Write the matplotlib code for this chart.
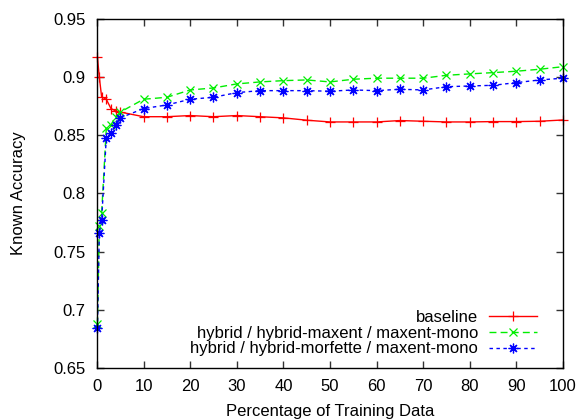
import matplotlib
matplotlib.use("Agg")
import matplotlib.pyplot as plt
import numpy as np

# Training-set size (percent) and accuracy for each system
pct = [0.1, 0.5, 1, 2, 3, 4, 5, 10, 15, 20, 25, 30, 35, 40, 45, 50,
       55, 60, 65, 70, 75, 80, 85, 90, 95, 100]

baseline = [0.917, 0.900, 0.883, 0.881, 0.873, 0.871, 0.870, 0.866, 0.866,
            0.867, 0.866, 0.867, 0.866, 0.865, 0.863, 0.8615, 0.8615, 0.8615,
            0.8627, 0.8621, 0.8615, 0.8615, 0.8618, 0.8618, 0.8621, 0.8632]

maxent = [0.688, 0.772, 0.783, 0.856, 0.859, 0.866, 0.870, 0.881, 0.8827,
          0.889, 0.8907, 0.8942, 0.8959, 0.8970, 0.8976, 0.8959, 0.8982,
          0.8991, 0.8991, 0.8991, 0.9016, 0.9028, 0.9039, 0.9051, 0.9068,
          0.9090]

morfette = [0.684, 0.766, 0.777, 0.848, 0.852, 0.859, 0.865, 0.873, 0.8761,
            0.881, 0.8827, 0.8867, 0.8884, 0.8884, 0.8884, 0.8879, 0.8890,
            0.8884, 0.8896, 0.8890, 0.8918, 0.8924, 0.8930, 0.8953, 0.8976,
            0.8991]

labels = ["baseline",
          "hybrid / hybrid-maxent / maxent-mono",
          "hybrid / hybrid-morfette / maxent-mono"]

x_ticks = list(range(0, 101, 10))
y_ticks = [0.65, 0.7, 0.75, 0.8, 0.85, 0.9, 0.95]
y_tick_labels = ["0.65", "0.7", "0.75", "0.8", "0.85", "0.9", "0.95"]

plt.rcParams["font.family"] = ["Liberation Sans", "DejaVu Sans"]
plt.rcParams["font.size"] = 12

fig = plt.figure(figsize=(5.8, 4.19), dpi=100)
ax = fig.add_axes([0.1672, 0.1217, 0.8035, 0.833])

ax.plot(pct, baseline, color="#ff0000", lw=1.0, ls="-", clip_on=False,
        marker="+", ms=7.5, mew=0.9, label=labels[0])
ax.plot(pct, maxent, color="#00ee00", lw=1.0, ls=(0, (5, 3)), clip_on=False,
        marker="x", ms=6, mew=0.9, label=labels[1])
ax.plot(pct, morfette, color="#0000ff", lw=1.0, ls=(0, (2.5, 2.5)),
        clip_on=False, marker=(8, 2, 0), ms=7, mew=0.9, label=labels[2])

ax.set_xlim(0, 100)
ax.set_ylim(0.65, 0.95)
ax.set_xticks(x_ticks)
ax.set_xticklabels([str(t) for t in x_ticks])
ax.set_yticks(y_ticks)
ax.set_yticklabels(y_tick_labels)
ax.tick_params(direction="in", length=5, width=1, top=True, right=True,
               labelsize=12, pad=8, color="#333333")
for s in ax.spines.values():
    s.set_linewidth(1.0)

ax.set_xlabel("Percentage of Training Data", fontsize=12, labelpad=7)
ax.set_ylabel("Known Accuracy", fontsize=12, labelpad=20)

leg = ax.legend(loc="lower right", markerfirst=False, frameon=False,
                fontsize=12, handlelength=2.9, handletextpad=0.65,
                labelspacing=0.05, borderaxespad=0.3,
                bbox_to_anchor=(0.97, 0.0))

fig.savefig("out.png", dpi=100)
